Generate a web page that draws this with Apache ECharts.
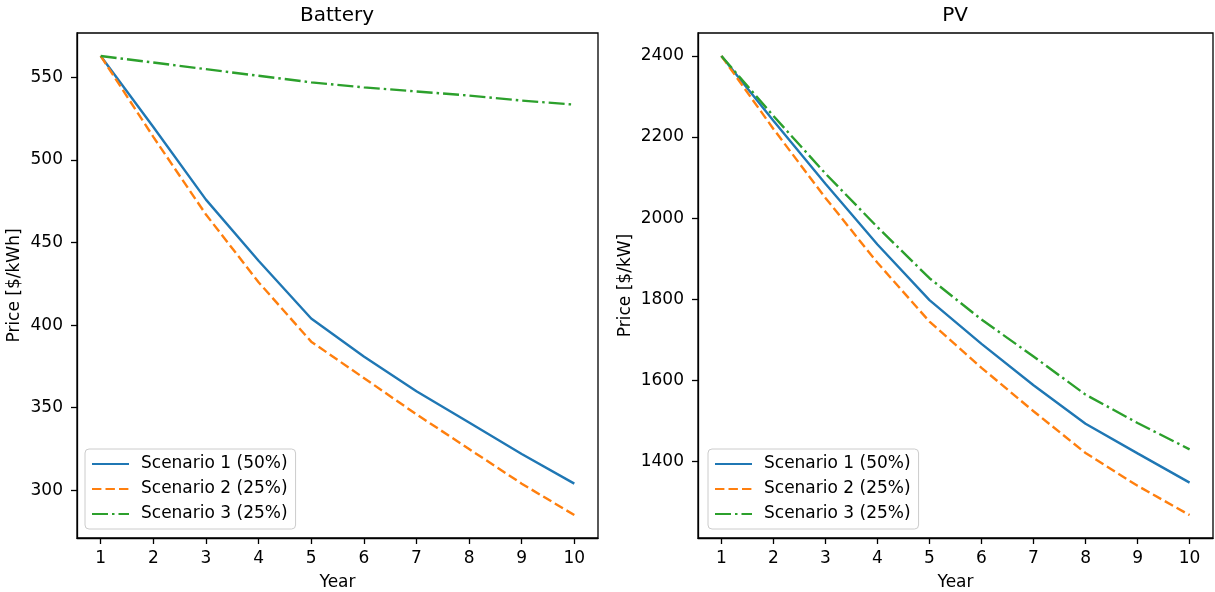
<!DOCTYPE html>
<html>
<head>
<meta charset="utf-8">
<title>Battery and PV price scenarios</title>
<script src="https://cdn.jsdelivr.net/npm/echarts@6/dist/echarts.min.js"></script>
<style>
  html, body { margin: 0; padding: 0; background: #ffffff; }
  #chart { width: 1215px; height: 592px; }
</style>
</head>
<body>
<div id="chart"></div>
<script>
// years on the x axis
const years = [1, 2, 3, 4, 5, 6, 7, 8, 9, 10];

// battery price [$/kWh]
const batteryS1 = [563, 520, 476, 439, 404, 381, 360, 341, 322, 304];
const batteryS2 = [563, 514, 467, 426, 390, 368, 346, 325, 304, 285];
const batteryS3 = [563, 559, 555, 551, 547, 544, 541.5, 539, 536, 533.5];

// PV price [$/kW]
const pvS1 = [2400, 2240, 2085, 1935, 1798, 1690, 1588, 1493, 1420, 1348];
const pvS2 = [2400, 2220, 2050, 1890, 1745, 1631, 1524, 1421, 1340, 1268];
const pvS3 = [2400, 2252, 2110, 1978, 1852, 1750, 1659, 1565, 1495, 1430];

const scenarioNames = ["Scenario 1 (50%)", "Scenario 2 (25%)", "Scenario 3 (25%)"];
const batteryTicks = [300, 350, 400, 450, 500, 550];
const pvTicks = [1400, 1600, 1800, 2000, 2200, 2400];

const FONT = "DejaVu Sans";
const COLORS = ["#1f77b4", "#ff7f0e", "#2ca02c"];
const DASHES = ["solid", [9.4, 4.1], [16, 4, 2.5, 4]];

const pairs = (ys) => years.map((y, i) => [y, ys[i]]);

function xAxisFor(gridIndex) {
  return {
    gridIndex,
    type: "value",
    min: 0.55,
    max: 10.45,
    name: "Year",
    nameLocation: "middle",
    nameGap: 36,
    nameTextStyle: { color: "#000", fontFamily: FONT, fontSize: 17 },
    axisLine: { show: true, onZero: false, lineStyle: { color: "#000", width: 1.3 } },
    axisTick: { show: true, inside: false, length: 6, customValues: years, lineStyle: { color: "#000", width: 1.3 } },
    axisLabel: { customValues: years, color: "#000", fontFamily: FONT, fontSize: 17, margin: 12 },
    splitLine: { show: false }
  };
}

function yAxisFor(gridIndex, min, max, ticks, name, gap) {
  return {
    gridIndex,
    type: "value",
    min,
    max,
    name,
    nameLocation: "middle",
    nameGap: gap,
    nameTextStyle: { color: "#000", fontFamily: FONT, fontSize: 17 },
    axisLine: { show: true, onZero: false, lineStyle: { color: "#000", width: 1.3 } },
    axisTick: { show: true, inside: false, length: 6, customValues: ticks, lineStyle: { color: "#000", width: 1.3 } },
    axisLabel: {
      customValues: ticks, color: "#000", fontFamily: FONT, fontSize: 17, margin: 14,
      formatter: (v) => String(v)
    },
    splitLine: { show: false }
  };
}

function seriesFor(axisIndex, sets) {
  return sets.map((ys, i) => ({
    name: scenarioNames[i],
    type: "line",
    xAxisIndex: axisIndex,
    yAxisIndex: axisIndex,
    data: pairs(ys),
    symbol: "none",
    animation: false,
    lineStyle: { color: COLORS[i], width: 2.4, type: DASHES[i] },
    itemStyle: { color: COLORS[i] }
  }));
}

function legendFor(left) {
  return {
    orient: "vertical",
    left,
    top: 449,
    data: scenarioNames,
    itemWidth: 37,
    itemHeight: 2,
    itemGap: 5,
    itemStyle: { opacity: 0 },
    padding: [5, 8, 5, 6],
    borderColor: "#cccccc",
    borderWidth: 1,
    borderRadius: 4,
    backgroundColor: "rgba(255,255,255,0.8)",
    selectedMode: false,
    textStyle: { color: "#000", fontFamily: FONT, fontSize: 17, lineHeight: 20, padding: [0, 0, 0, 7] }
  };
}

const chart = echarts.init(document.getElementById("chart"));
chart.setOption({
  backgroundColor: "#ffffff",
  animation: false,
  title: [
    { text: "Battery", left: 332, top: 1, textAlign: "center",
      textStyle: { color: "#000", fontFamily: FONT, fontSize: 20, fontWeight: "normal" } },
    { text: "PV", left: 950, top: 1, textAlign: "center",
      textStyle: { color: "#000", fontFamily: FONT, fontSize: 20, fontWeight: "normal" } }
  ],
  grid: [
    { left: 77, top: 33, width: 521, height: 505, outerBoundsMode: "none", containLabel: false,
      show: true, borderColor: "#000", borderWidth: 1.3 },
    { left: 698, top: 33, width: 515, height: 505, outerBoundsMode: "none", containLabel: false,
      show: true, borderColor: "#000", borderWidth: 1.3 }
  ],
  legend: [legendFor(85), legendFor(708)],
  xAxis: [xAxisFor(0), xAxisFor(1)],
  yAxis: [
    yAxisFor(0, 271.1, 576.9, batteryTicks, "Price [$/kWh]", 54),
    yAxisFor(1, 1211.4, 2456.6, pvTicks, "Price [$/kW]", 64)
  ],
  series: [
    ...seriesFor(0, [batteryS1, batteryS2, batteryS3]),
    ...seriesFor(1, [pvS1, pvS2, pvS3])
  ]
});
</script>
</body>
</html>
